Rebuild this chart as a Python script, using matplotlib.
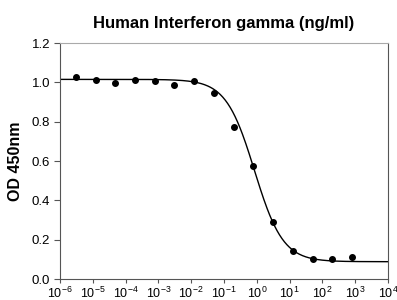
import numpy as np
import matplotlib
matplotlib.use("Agg")
import matplotlib.pyplot as plt

plt.rcParams['font.family'] = ['Liberation Sans', 'DejaVu Sans']
plt.rcParams['mathtext.fontset'] = 'custom'
plt.rcParams['mathtext.rm'] = 'Liberation Sans'

# measured points (4-fold dilutions from 800 ng/ml)
conc = [3.05e-6, 1.22e-5, 4.88e-5, 1.95e-4, 7.81e-4, 3.05e-3, 1.22e-2,
        4.88e-2, 0.195, 0.781, 3.125, 12.5, 50, 200, 800]
od = [1.027, 1.013, 0.997, 1.010, 1.005, 0.985, 1.008,
      0.944, 0.774, 0.573, 0.288, 0.142, 0.103, 0.103, 0.110]

# 4PL fit parameters
top = 1.015
bottom = 0.088
ec50 = 0.85
hill = 1.0

x_fit = np.logspace(-6, 4, 400)
y_fit = bottom + (top - bottom) / (1 + (x_fit / ec50) ** hill)

fig = plt.figure(figsize=(3.97, 3.0), dpi=100)
ax = fig.add_axes([60 / 397, 21 / 300, 328 / 397, 236 / 300])

ax.plot(x_fit, y_fit, color='black', linewidth=1.0)
ax.plot(conc, od, 'o', color='black', markersize=4)

ax.set_xscale('log')
ax.set_xlim(1e-6, 1e4)
ax.set_ylim(0, 1.2)
ax.set_xticks([10.0 ** k for k in range(-6, 5)])
ax.set_xticklabels([r'$\mathregular{10^{%d}}$' % k for k in range(-6, 5)], fontsize=9)
ax.xaxis.set_minor_locator(matplotlib.ticker.NullLocator())
ax.set_yticks([0, 0.2, 0.4, 0.6, 0.8, 1.0, 1.2])
ax.set_yticklabels(['0.0', '0.2', '0.4', '0.6', '0.8', '1.0', '1.2'], fontsize=9.5)
ax.tick_params(axis='y', direction='out', length=4, width=0.8, color='#555555', pad=3)
ax.tick_params(axis='x', direction='out', length=3, width=0.8, color='#555555', pad=2)

ax.spines['top'].set_color('#aaaaaa')
ax.spines['right'].set_color('#555555')
ax.spines['left'].set_color('#555555')
ax.spines['bottom'].set_color('#555555')

ax.set_ylabel('OD 450nm', fontsize=11.5, fontweight='bold', labelpad=6)
ax.set_title('Human Interferon gamma (ng/ml)', fontsize=12, fontweight='bold', pad=11)

fig.savefig('out.png', dpi=100)
